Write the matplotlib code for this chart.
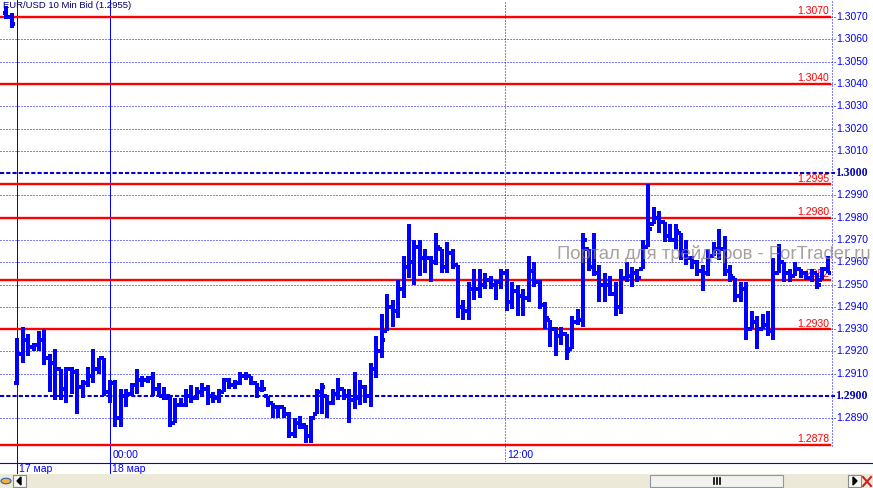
import numpy as np
import matplotlib.pyplot as plt
from matplotlib.lines import Line2D
from matplotlib.patches import Rectangle, Polygon, Circle
import matplotlib.transforms as mtransforms

plt.rcParams['font.family'] = ['Liberation Sans', 'DejaVu Sans']

# EUR/USD 10 min bars, values in pips above 1.2900 (1 pip = 0.0001)
BASE = 1.2900
PIP = 0.0001
# two Friday bars, then the Sunday 17 Mar open onwards
opens = [172, 170,
         6, 19, 25, 22, 23, 25, 17, 15, 12, 3, 12, 11, 4, 6, 9, 12, 17, 2, 6, -10,
         0, 1, 5, 7, 7, 8, 3, 0, 0, -12, -4, -4, 0, -1, 2, 3, 0, -1, 2, 7,
         5, 6, 9, 9, 6, 3, 0, -3, -5, -5, -8, -17, -12, -13, -18, -8, 2, 0, -3, 1,
         3, 0, -2, -1, 4, 0, 12, 20, 29, 40, 38, 48, 58, 60, 67, 62, 62, 60, 66, 58,
         64, 59, 40, 38, 48, 48, 50, 52, 50, 51, 55, 42, 47, 45, 44, 56, 51, 41, 34, 30,
         27, 28, 21, 33, 34, 66, 58, 55, 50, 50, 46, 40, 53, 54, 55, 57, 67, 77, 80, 78,
         72, 70, 73, 65, 62, 60, 56, 55, 63, 66, 66, 56, 53, 45, 48, 30, 33, 30, 32, 29,
         55, 60, 55, 54, 57, 55, 53, 55, 52, 57]
highs = [175, 172,
         26, 31, 28, 24, 29, 30, 19, 21, 12, 13, 13, 12, 7, 13, 21, 17, 17, 7, 7, 3,
         3, 6, 12, 9, 9, 11, 6, 4, 0, -1, -1, 3, 5, 4, 6, 5, 2, 3, 8, 8,
         7, 11, 11, 9, 6, 7, 0, -3, -5, -5, -7, -10, -9, -13, -9, 3, 6, 0, 3, 8,
         3, 3, 11, 7, 5, 15, 27, 37, 46, 43, 52, 63, 77, 70, 70, 66, 63, 73, 66, 69,
         66, 59, 43, 51, 57, 57, 55, 54, 52, 57, 57, 51, 50, 48, 63, 60, 52, 42, 34, 31,
         31, 28, 36, 39, 73, 66, 73, 59, 55, 54, 51, 57, 60, 58, 57, 70, 95, 85, 83, 78,
         77, 77, 73, 70, 63, 61, 59, 66, 69, 75, 72, 59, 53, 51, 51, 38, 36, 37, 38, 62,
         68, 60, 57, 60, 57, 56, 57, 55, 58, 63]
lows = [169, 165,
        5, 15, 18, 20, 20, 14, 2, -2, -2, -3, 1, -8, -1, 4, 6, 10, 0, -3, -14, -14,
        -5, 0, 1, 4, 6, 0, 0, -2, -14, -12, -5, -5, -3, -2, 0, -4, -3, -3, 2, 3,
        3, 5, 7, 5, -1, 2, -5, -10, -10, -10, -19, -19, -15, -21, -21, -8, -8, -10, -4, -2,
        -2, -12, -6, -4, -3, -5, 8, 17, 29, 31, 35, 44, 53, 50, 54, 55, 51, 59, 55, 55,
        57, 35, 34, 34, 43, 44, 48, 48, 43, 48, 38, 39, 36, 36, 42, 49, 39, 30, 22, 18,
        23, 16, 21, 32, 31, 56, 54, 42, 42, 45, 36, 37, 51, 49, 51, 57, 67, 77, 73, 69,
        69, 66, 61, 59, 57, 54, 47, 54, 63, 61, 54, 51, 42, 42, 25, 30, 21, 30, 27, 25,
        55, 51, 51, 54, 53, 52, 51, 48, 52, 55]
closes = [170, 167,
          19, 25, 22, 23, 25, 17, 15, 12, 3, 12, 11, 4, 6, 9, 12, 17, 2, 6, -10, 0,
          1, 5, 7, 7, 8, 3, 0, -1, -12, -4, -4, 0, -1, 2, 3, 0, -1, 2, 7, 5,
          6, 9, 9, 6, 3, 3, -3, -5, -5, -8, -17, -12, -14, -18, -10, 2, 4, -3, 1, 3,
          0, -2, -1, 4, 0, 12, 20, 25, 40, 38, 48, 58, 60, 67, 62, 62, 60, 67, 58, 64,
          59, 40, 38, 48, 48, 50, 52, 50, 51, 55, 42, 47, 45, 44, 56, 51, 41, 35, 30, 27,
          28, 20, 33, 34, 70, 58, 55, 50, 50, 46, 40, 53, 54, 55, 53, 67, 75, 80, 78, 72,
          70, 74, 65, 62, 60, 56, 55, 63, 66, 66, 56, 54, 45, 48, 30, 33, 30, 32, 29, 55,
          60, 55, 54, 57, 55, 53, 55, 50, 57, 55]

levels = [1.3070, 1.3040, 1.2995, 1.2980, 1.2952, 1.2930, 1.2878]
level_labels = ['1.3070', '1.3040', '1.2995', '1.2980', '1.2952', '1.2930', '1.2878']
grid_prices = [1.2890, 1.2910, 1.2920, 1.2930, 1.2940, 1.2950, 1.2960, 1.2970, 1.2980,
               1.2990, 1.3010, 1.3020, 1.3030, 1.3040, 1.3050, 1.3060, 1.3070]
bold_prices = [1.2900, 1.3000]
# bar positions of the day separators and the 12:00 mark
day_pos = [2, 19.1]
day_labels = ['17 мар', '18 мар']
time_pos = [19.1, 91.7]
time_labels = ['00:00', '12:00']
title = 'EUR/USD 10 Min Bid (1.2955)'

W, H = 873, 488
BLUE = '#0000ff'
THIN = 0.72


def fx(px):
    return px / W


def fy(py):
    return 1 - py / H


fig = plt.figure(figsize=(W / 100, H / 100), dpi=100)
ax = fig.add_axes([0, fy(462), 832 / W, 462 / H])
ax.set_xlim(-1.18, 151.76)
ax.set_ylim(1.28704, 1.30777)
ax.axis('off')

o = BASE + np.array(opens) * PIP
h = BASE + np.array(highs) * PIP
l = BASE + np.array(lows) * PIP
c = BASE + np.array(closes) * PIP
x = np.arange(len(o))

# price grid
for p in grid_prices:
    ax.axhline(p, xmax=835 / 832, color=BLUE, lw=THIN, ls=(0, (1, 2)), clip_on=False, zorder=1)
for p in bold_prices:
    ax.axhline(p, xmax=835 / 832, color='#0000cc', lw=1.5, ls=(0, (2, 1)), clip_on=False, zorder=1)

trans = mtransforms.blended_transform_factory(ax.transAxes, ax.transData)
for p in grid_prices:
    ax.text(836 / 832, p, f'{p:.4f}', transform=trans, ha='left', va='center',
            fontsize=7.5, color=BLUE, clip_on=False)
for p in bold_prices:
    ax.text(835 / 832, p, f'{p:.4f}', transform=trans, ha='left', va='center',
            fontsize=8.5, color='#0000bb', fontweight='bold', family='Liberation Serif',
            clip_on=False)

# right axis line
ax.plot([1, 1], [(462 - 446) / 462, 1], transform=ax.transAxes, color=BLUE, lw=THIN,
        ls=(0, (1, 2)), clip_on=False)

# support / resistance levels
for p, s in zip(levels, level_labels):
    ax.axhline(p, xmax=830 / 832, color='#ff0000', lw=1.7, zorder=2)
    ax.text(829 / 832, p + 0.00003, s, transform=trans, ha='right', va='bottom',
            fontsize=7.5, color='#ff0000', zorder=2)

# separators
for xp in day_pos:
    ax.axvline(xp, ymin=-11 / 462, ymax=1, color=BLUE, lw=THIN, clip_on=False, zorder=1)
ax.axvline(time_pos[1], ymin=0, ymax=1, color=BLUE, lw=THIN, ls=(0, (1, 2)), zorder=1)
for xp, s in zip(time_pos, time_labels):
    ax.text(xp + 0.35, 1.28704 + 7 * 0.0000449, s, ha='left', va='center',
            fontsize=7.5, color=BLUE)
for xp, s in zip(day_pos, day_labels):
    ax.text(xp + 0.35, 1.28704 - 7 * 0.0000449, s, ha='left', va='center',
            fontsize=7.5, color=BLUE, clip_on=False)

# OHLC bars
ax.vlines(x, l, h, color=BLUE, lw=1.5, capstyle='butt', zorder=3, antialiased=False)
ax.hlines(o, x - 0.65, x, color=BLUE, lw=1.5, capstyle='butt', zorder=3, antialiased=False)
ax.hlines(c, x, x + 0.65, color=BLUE, lw=1.5, capstyle='butt', zorder=3, antialiased=False)

fig.text(fx(3), fy(0.5), title, ha='left', va='top', fontsize=6.8, color='#000070')
fig.text(fx(557), fy(254), 'Портал для трейдеров - ForTrader.ru', ha='left', va='center',
         fontsize=13.3, color='#8a8080', alpha=0.75, zorder=10)

# bottom line and scrollbar
fig.add_artist(Line2D([0, 1], [fy(462.5)] * 2, color=BLUE, lw=0.8))
fig.add_artist(Rectangle((0, fy(488)), 1, 14 / H, facecolor='#ece9d8', edgecolor='none'))
fig.add_artist(Circle((fx(6), fy(481)), 5 / W, facecolor='#f0b030', edgecolor='#3060c0', lw=0.8))
fig.add_artist(Rectangle((fx(13), fy(487)), 13 / W, 12 / H, facecolor='#f6f5f0', edgecolor='#8a8a8a', lw=0.8))
fig.add_artist(Polygon([[fx(17), fy(481)], [fx(21), fy(477)], [fx(21), fy(485)]], color='black'))
fig.add_artist(Rectangle((fx(650), fy(487)), 133 / W, 12 / H, facecolor='#f3f2ec', edgecolor='#8c98a4', lw=0.8))
for gx in [714, 717, 720]:
    fig.add_artist(Line2D([fx(gx)] * 2, [fy(484), fy(478)], color='black', lw=1.2))
fig.add_artist(Rectangle((fx(848), fy(487)), 13 / W, 12 / H, facecolor='#f6f5f0', edgecolor='#8a8a8a', lw=0.8))
fig.add_artist(Polygon([[fx(857), fy(481)], [fx(853), fy(477)], [fx(853), fy(485)]], color='black'))
fig.add_artist(Line2D([fx(863), fx(871)], [fy(477), fy(486)], color='#d02020', lw=1.5))
fig.add_artist(Line2D([fx(863), fx(871)], [fy(486), fy(477)], color='#d02020', lw=1.5))

fig.savefig('out.png', dpi=100)
